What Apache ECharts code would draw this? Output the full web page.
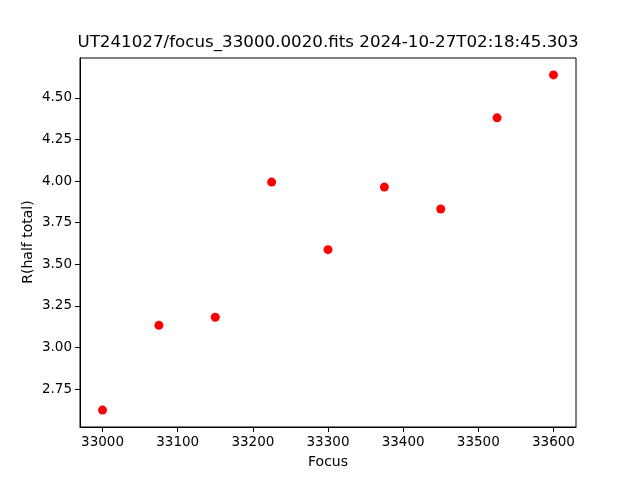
<!DOCTYPE html>
<html><head><meta charset="utf-8">
<script src="https://cdn.jsdelivr.net/npm/echarts@6/dist/echarts.min.js"></script>
<style>html,body{margin:0;padding:0;background:#fff}#c{width:640px;height:480px}</style>
</head><body><div id="c"></div>
<script>
const focus = [33000, 33075, 33150, 33225, 33300, 33375, 33450, 33525, 33600];
const rHalf = [2.624, 3.134, 3.182, 3.994, 3.588, 3.964, 3.832, 4.380, 4.638];
const xTicks = [33000, 33100, 33200, 33300, 33400, 33500, 33600];
const yTicks = [2.75, 3.00, 3.25, 3.50, 3.75, 4.00, 4.25, 4.50];
const titleText = 'UT241027/focus_33000.0020.fits 2024-10-27T02:18:45.303';
const yName = 'R(half total)';

const chart = echarts.init(document.getElementById('c'), null, {renderer: 'canvas'});
const font = 'DejaVu Sans';
const axisCommon = {
  axisLine: {show: true, onZero: false, lineStyle: {color: '#000', width: 1}},
  axisTick: {show: true, inside: false, length: 5, lineStyle: {color: '#000', width: 1}},
  splitLine: {show: false},
  nameTextStyle: {fontFamily: font, fontSize: 14, color: '#000'}
};
chart.setOption({
  animation: false,
  backgroundColor: '#fff',
  graphic: [{
    type: 'text', x: 328, y: 51,
    style: {text: titleText, align: 'center', verticalAlign: 'bottom',
      fontFamily: font, fontSize: 16.7, fill: '#000'}
  }, {
    type: 'text', x: 28, y: 242, rotation: Math.PI / 2,
    style: {text: yName, align: 'center', verticalAlign: 'middle',
      fontFamily: font, fontSize: 14, fill: '#000'}
  }],
  grid: {left: 80, right: 64, top: 58, bottom: 53, show: true, borderColor: '#000', borderWidth: 1},
  xAxis: Object.assign({}, axisCommon, {
    type: 'value', min: 32970, max: 33630,
    name: 'Focus', nameLocation: 'middle', nameGap: 28,
    axisTick: Object.assign({}, axisCommon.axisTick, {customValues: xTicks}),
    axisLabel: {customValues: xTicks, margin: 8, fontFamily: font, fontSize: 13.5, color: '#000',
      formatter: v => String(Math.round(v))}
  }),
  yAxis: Object.assign({}, axisCommon, {
    type: 'value', min: 2.5225, max: 4.7395,
    axisTick: Object.assign({}, axisCommon.axisTick, {customValues: yTicks}),
    axisLabel: {customValues: yTicks, margin: 8, fontFamily: font, fontSize: 13.5, color: '#000',
      formatter: v => v.toFixed(2)}
  }),
  series: [{
    type: 'scatter',
    data: focus.map((f, i) => [f, rHalf[i]]),
    symbol: 'circle', symbolSize: 9,
    itemStyle: {color: '#ff0000', opacity: 1}
  }]
});
</script></body></html>
